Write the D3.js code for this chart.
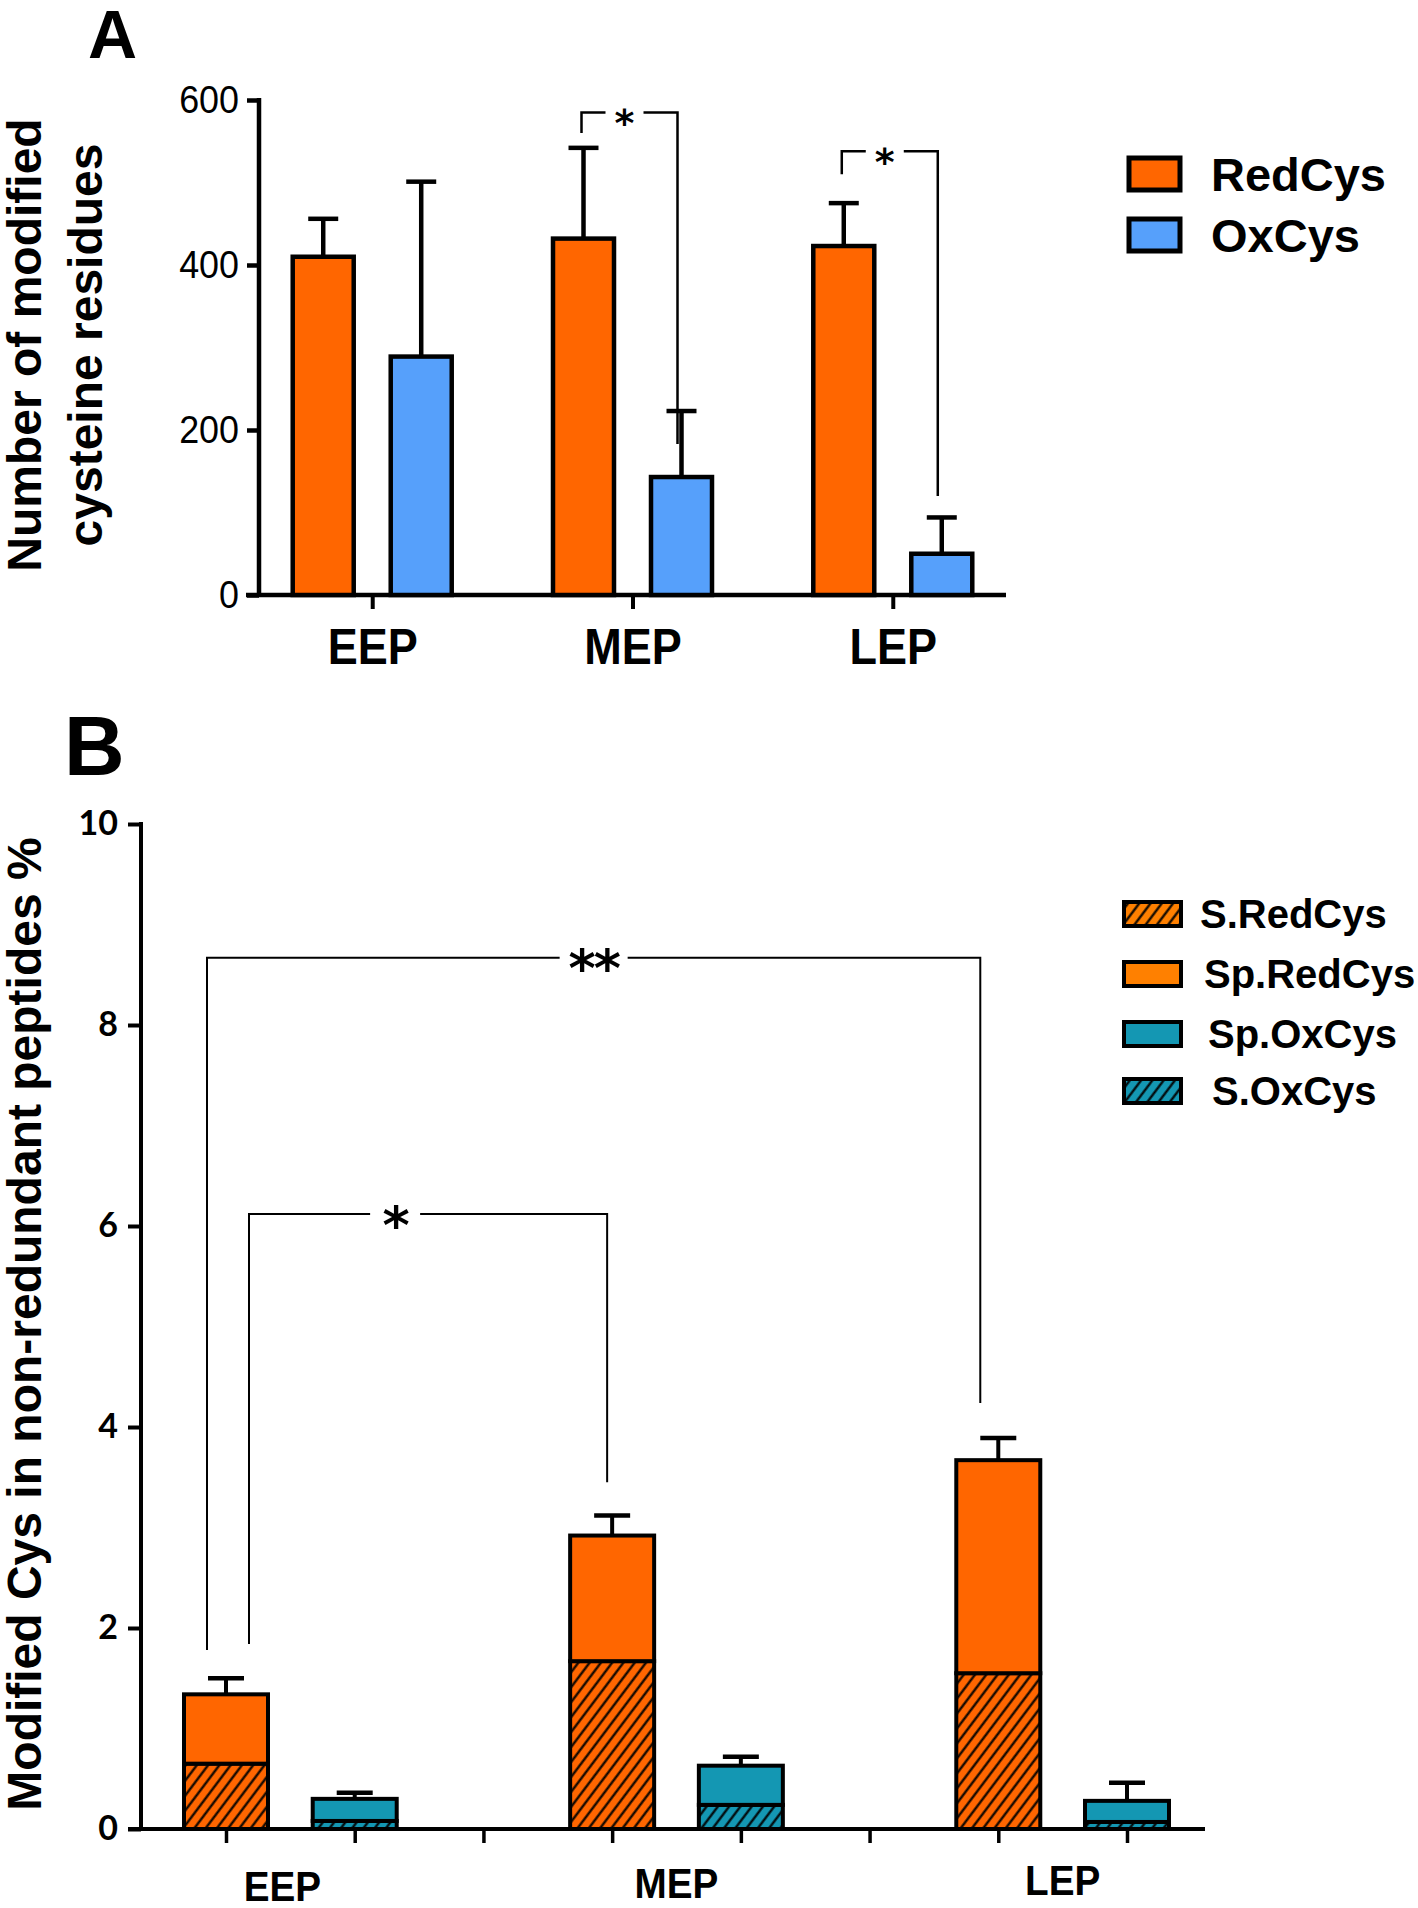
<!DOCTYPE html>
<html><head><meta charset="utf-8">
<script src="https://cdn.jsdelivr.net/npm/d3@7"></script>
<style>body{margin:0;background:#fff}svg{display:block}</style>
</head><body>
<svg id="c" width="1418" height="1908"></svg>
<script>
// ---------- Panel A data ----------
const groupsA = ["EEP", "MEP", "LEP"];
const seriesA = ["RedCys", "OxCys"];
const redCysMean = [410, 432, 423];
const redCysSEM = [46, 110, 52];
const oxCysMean = [289, 143, 50];
const oxCysSEM = [212, 80, 44];
const ticksA = [0, 200, 400, 600];
const sigA = [
  { group: "MEP", label: "*", y: 585, leftEnd: 560, rightEnd: 183 },
  { group: "LEP", label: "*", y: 538, leftEnd: 510, rightEnd: 120 }
];
// ---------- Panel B data ----------
const groupsB = ["EEP", "MEP", "LEP"];
const sRedCys = [0.65, 1.67, 1.55];
const spRedCys = [0.69, 1.25, 2.12];
const redSEM = [0.16, 0.20, 0.22];
const sOxCys = [0.08, 0.24, 0.07];
const spOxCys = [0.22, 0.39, 0.21];
const oxSEM = [0.06, 0.09, 0.18];
const ticksB = [0, 2, 4, 6, 8, 10];
const legendB = ["S.RedCys", "Sp.RedCys", "Sp.OxCys", "S.OxCys"];
const sigB = [
  { from: "EEP", to: "LEP", label: "**", y: 8.67, leftEnd: 1.78, rightEnd: 4.24 },
  { from: "EEP", to: "MEP", label: "*", y: 6.12, leftEnd: 1.84, rightEnd: 3.45 }
];

// ---------- styles ----------
const ORANGE = "#FF6600", BLUE = "#56A0FB", TEAL = "#1497B3", LORANGE = "#FF8000";
const BOLD = "'Liberation Sans', Arial, sans-serif";
const STAR = "'DejaVu Sans', sans-serif";

const svg = d3.select("#c");
const defs = svg.append("defs");
function hatch(id, color) {
  const p = defs.append("pattern").attr("id", id).attr("patternUnits", "userSpaceOnUse")
    .attr("width", 9).attr("height", 9).attr("patternTransform", "rotate(37)");
  p.append("rect").attr("width", 9).attr("height", 9).attr("fill", color);
  p.append("line").attr("x1", 4.5).attr("x2", 4.5).attr("y1", -1).attr("y2", 10)
    .attr("stroke", "#000").attr("stroke-width", 2.2);
}
hatch("hO", ORANGE); hatch("hT", TEAL); hatch("hLO", LORANGE);

// ================= PANEL A =================
const gA = svg.append("g");
gA.append("text").attr("x", 88).attr("y", 58).attr("font-family", BOLD).attr("font-weight", 700)
  .attr("font-size", 68).text("A");

const xA = d3.scalePoint().domain(groupsA).range([259, 1006]).padding(0.435);
const yA = d3.scaleLinear().domain([0, 600]).range([595, 100]);
const offA = 49, bwA = 61;

// y axis
const axA = gA.append("g").attr("transform", "translate(259,0)")
  .call(d3.axisLeft(yA).tickValues(ticksA).tickSize(12).tickPadding(7).tickSizeOuter(0));
axA.select(".domain").attr("stroke-width", 4.5).attr("d", "M0,597V98");
axA.selectAll(".tick line").attr("stroke-width", 4.5);
axA.selectAll(".tick text").attr("font-family", BOLD).attr("font-size", 39).attr("fill", "#000")
  .attr("x", 0).attr("transform", "translate(-20,0) scale(0.92,1)");

// x axis
const axAx = gA.append("g").attr("transform", "translate(0,595)")
  .call(d3.axisBottom(xA).tickSize(14).tickPadding(20).tickSizeOuter(0));
axAx.select(".domain").attr("stroke-width", 4.5).attr("d", "M246,0H1006");
axAx.selectAll(".tick line").attr("stroke-width", 4);
axAx.selectAll(".tick text").attr("font-family", BOLD).attr("font-weight", 700)
  .attr("font-size", 50).attr("fill", "#000").attr("dy", "0.71em")
  .attr("transform", "scale(0.9,1)");

// bars
const barsA = [];
groupsA.forEach((g, i) => {
  barsA.push({ g, s: "RedCys", v: redCysMean[i], e: redCysSEM[i], dx: -offA, c: ORANGE });
  barsA.push({ g, s: "OxCys", v: oxCysMean[i], e: oxCysSEM[i], dx: offA, c: BLUE });
});
const ebA = gA.append("g");
barsA.forEach(b => {
  const cx = xA(b.g) + b.dx;
  ebA.append("line").attr("x1", cx).attr("x2", cx).attr("y1", yA(b.v)).attr("y2", yA(b.v + b.e))
    .attr("stroke", "#000").attr("stroke-width", 4.5);
  ebA.append("line").attr("x1", cx - 15).attr("x2", cx + 15).attr("y1", yA(b.v + b.e)).attr("y2", yA(b.v + b.e))
    .attr("stroke", "#000").attr("stroke-width", 4.5);
});
gA.append("g").selectAll("rect").data(barsA).join("rect")
  .attr("x", d => xA(d.g) + d.dx - bwA / 2).attr("width", bwA)
  .attr("y", d => yA(d.v)).attr("height", d => yA(0) - yA(d.v))
  .attr("fill", d => d.c).attr("stroke", "#000").attr("stroke-width", 4.5);

// significance brackets A
sigA.forEach(s => {
  const xl = xA(s.group) - offA - 2, xr = xA(s.group) + offA - 4, sx = xA(s.group) - 8;
  const yy = yA(s.y);
  gA.append("path").attr("d", `M${xl},${yA(s.leftEnd)}V${yy}H${sx - 19}M${sx + 19},${yy}H${xr}V${yA(s.rightEnd)}`)
    .attr("fill", "none").attr("stroke", "#000").attr("stroke-width", 2.5);
  gA.append("text").attr("x", sx).attr("y", yy + 3 + 0.55 * 38).attr("text-anchor", "middle")
    .attr("font-family", STAR).attr("font-weight", 700).attr("font-size", 38).text(s.label);
});

// legend A
const legA = gA.append("g");
seriesA.forEach((s, i) => {
  legA.append("rect").attr("x", 1129).attr("y", 158 + i * 61).attr("width", 51).attr("height", 32)
    .attr("fill", i === 0 ? ORANGE : BLUE).attr("stroke", "#000").attr("stroke-width", 5);
  legA.append("text").attr("x", 1211).attr("y", 191 + i * 61).attr("font-family", BOLD)
    .attr("font-weight", 700).attr("font-size", 47).text(s);
});

// y title A
gA.append("text").attr("transform", "translate(41,345) rotate(-90)").attr("text-anchor", "middle")
  .attr("font-family", BOLD).attr("font-weight", 700).attr("font-size", 48).text("Number of modified");
gA.append("text").attr("transform", "translate(102,345) rotate(-90)").attr("text-anchor", "middle")
  .attr("font-family", BOLD).attr("font-weight", 700).attr("font-size", 48).text("cysteine residues");

// ================= PANEL B =================
const gB = svg.append("g");
gB.append("text").attr("x", 64).attr("y", 775).attr("font-family", BOLD).attr("font-weight", 700)
  .attr("font-size", 84).text("B");

const slots = d3.range(8);
const xB = d3.scalePoint().domain(slots).range([226, 1127]);
const yB = d3.scaleLinear().domain([0, 10]).range([1829, 824]);
const bwB = 84;

const axB = gB.append("g").attr("transform", "translate(141,0)")
  .call(d3.axisLeft(yB).tickValues(ticksB).tickSize(13).tickPadding(10).tickSizeOuter(0));
axB.select(".domain").attr("stroke-width", 4).attr("d", "M0,1831V822");
axB.selectAll(".tick line").attr("stroke-width", 4);
axB.selectAll(".tick text").attr("font-family", "Lato, 'Open Sans', sans-serif").attr("font-weight", 700)
  .attr("font-size", 34).attr("fill", "#000");

const axBx = gB.append("g").attr("transform", "translate(0,1829)")
  .call(d3.axisBottom(xB).tickSize(14).tickFormat("").tickSizeOuter(0));
axBx.select(".domain").attr("stroke-width", 4).attr("d", "M128,0H1205");
axBx.selectAll(".tick line").attr("stroke-width", 3.5);

// group labels
gB.append("g").selectAll("text").data(groupsB).join("text")
  .attr("transform", (d, i) => `translate(${(xB(3 * i) + xB(3 * i + 1)) / 2 - (i === 0 ? 8 : 0)},${1901 - i * 3}) scale(0.9,1)`)
  .attr("text-anchor", "middle").attr("font-family", BOLD).attr("font-weight", 700)
  .attr("font-size", 43).text(d => d);

// stacked bars
const stacksB = [];
groupsB.forEach((g, i) => {
  stacksB.push({ slot: 3 * i, lo: sRedCys[i], hi: spRedCys[i], e: redSEM[i], fillLo: "url(#hO)", fillHi: ORANGE });
  stacksB.push({ slot: 3 * i + 1, lo: sOxCys[i], hi: spOxCys[i], e: oxSEM[i], fillLo: "url(#hT)", fillHi: TEAL });
});
const ebB = gB.append("g");
stacksB.forEach(b => {
  const cx = xB(b.slot), top = b.lo + b.hi;
  ebB.append("line").attr("x1", cx).attr("x2", cx).attr("y1", yB(top)).attr("y2", yB(top + b.e))
    .attr("stroke", "#000").attr("stroke-width", 4);
  ebB.append("line").attr("x1", cx - 18).attr("x2", cx + 18).attr("y1", yB(top + b.e)).attr("y2", yB(top + b.e))
    .attr("stroke", "#000").attr("stroke-width", 4.5);
});
stacksB.forEach(b => {
  const cx = xB(b.slot);
  gB.append("rect").attr("x", cx - bwB / 2).attr("width", bwB)
    .attr("y", yB(b.lo)).attr("height", yB(0) - yB(b.lo))
    .attr("fill", b.fillLo).attr("stroke", "#000").attr("stroke-width", 4);
  gB.append("rect").attr("x", cx - bwB / 2).attr("width", bwB)
    .attr("y", yB(b.lo + b.hi)).attr("height", yB(b.lo) - yB(b.lo + b.hi))
    .attr("fill", b.fillHi).attr("stroke", "#000").attr("stroke-width", 4);
});

// brackets B
const bracketStyle = { "**": { dl: -19, dr: -18, frac: 0.5, gap: 34 }, "*": { dl: 23, dr: -5, frac: 0.408, gap: 25 } };
sigB.forEach(s => {
  const st = bracketStyle[s.label];
  const xl = xB(3 * groupsB.indexOf(s.from)) + st.dl;
  const xr = xB(3 * groupsB.indexOf(s.to)) + st.dr;
  const sx = xl + (xr - xl) * st.frac, yy = yB(s.y);
  gB.append("path").attr("d", `M${xl},${yB(s.leftEnd)}V${yy}H${sx - st.gap}M${sx + st.gap},${yy}H${xr}V${yB(s.rightEnd)}`)
    .attr("fill", "none").attr("stroke", "#000").attr("stroke-width", 2);
  gB.append("text").attr("x", sx).attr("y", yy + 0.55 * 52).attr("text-anchor", "middle")
    .attr("font-family", STAR).attr("font-weight", 700).attr("font-size", 52)
    .attr("letter-spacing", -2).text(s.label);
});

// legend B
const legBFill = ["url(#hLO)", LORANGE, TEAL, "url(#hT)"];
legendB.forEach((s, i) => {
  const cy = [914, 974, 1034, 1091][i];
  gB.append("rect").attr("x", 1124).attr("y", cy - 12).attr("width", 57).attr("height", 24)
    .attr("fill", legBFill[i]).attr("stroke", "#000").attr("stroke-width", 4);
  gB.append("text").attr("x", 1200 + 4 * i).attr("y", cy + 14).attr("font-family", BOLD)
    .attr("font-weight", 700).attr("font-size", 40).text(s);
});

// y title B
gB.append("text").attr("transform", "translate(41,1324) rotate(-90)").attr("text-anchor", "middle")
  .attr("font-family", BOLD).attr("font-weight", 700).attr("font-size", 48)
  .text("Modified Cys in non-redundant peptides %");
</script>
</body></html>
